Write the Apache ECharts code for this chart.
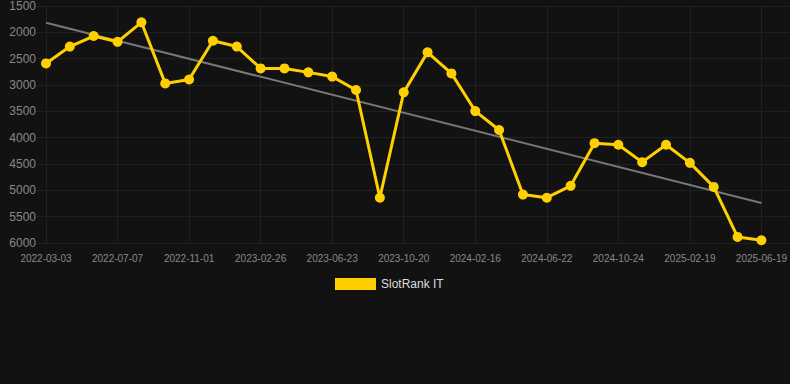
<!DOCTYPE html>
<html>
<head>
<meta charset="utf-8">
<script src="https://cdn.jsdelivr.net/npm/echarts@6/dist/echarts.min.js"></script>
<style>
  html, body { margin: 0; padding: 0; background: #121212; }
  #chart { width: 790px; height: 384px; }
</style>
</head>
<body>
<div id="chart"></div>
<script>
var dates = [
  '2022-03-03', '2022-04-14', '2022-05-26', '2022-07-07', '2022-08-15', '2022-09-23',
  '2022-11-01', '2022-12-10', '2023-01-18', '2023-02-26', '2023-04-05', '2023-05-14',
  '2023-06-23', '2023-08-01', '2023-09-10', '2023-10-20', '2023-11-28', '2024-01-07',
  '2024-02-16', '2024-03-28', '2024-05-10', '2024-06-22', '2024-08-01', '2024-09-12',
  '2024-10-24', '2024-12-03', '2025-01-11', '2025-02-19', '2025-03-31', '2025-05-10',
  '2025-06-19'
];
var rankIT = [
  2590, 2270, 2070, 2180, 1810, 2970, 2895, 2160, 2270, 2685, 2685, 2760,
  2840, 3095, 5140, 3140, 2380, 2780, 3495, 3855, 5080, 5140, 4915, 4105,
  4135, 4465, 4135, 4478, 4935, 5885, 5948
];
// trend line end points (start, end)
var trendEnds = [1817, 5239];

var trend = dates.map(function(d, i) {
  if (i === 0) return trendEnds[0];
  if (i === dates.length - 1) return trendEnds[1];
  return null;
});

var chart = echarts.init(document.getElementById('chart'), null, { renderer: 'svg' });
var grid = '#202020';
chart.setOption({
  animation: false,
  backgroundColor: '#121212',
  grid: [
    { left: 37, right: 0, top: 6, bottom: 141 },
    { left: 46, right: 28, top: 6, bottom: 141 }
  ],
  legend: {
    data: [{ name: 'SlotRank IT', icon: 'rect' }],
    top: 278,
    left: 335,
    padding: 0,
    itemWidth: 41,
    itemHeight: 12,
    itemGap: 10,
    textStyle: { color: '#dddddd', fontSize: 12, fontFamily: 'Liberation Sans, Arial, sans-serif' }
  },
  xAxis: [
    { gridIndex: 0, type: 'value', show: false, min: 0, max: 1 },
    {
      gridIndex: 1,
      type: 'category',
      data: dates,
      boundaryGap: false,
      axisLine: { show: false },
      axisTick: { show: false },
      axisLabel: {
        interval: 2,
        color: '#888888',
        fontSize: 10,
        margin: 10,
        fontFamily: 'Liberation Sans, Arial, sans-serif'
      },
      splitLine: { show: true, interval: 2, lineStyle: { color: grid, width: 1 } }
    }
  ],
  yAxis: [
    {
      gridIndex: 0,
      type: 'value',
      inverse: true,
      min: 1500,
      max: 6000,
      interval: 500,
      axisLine: { show: false },
      axisTick: { show: false },
      axisLabel: { show: false },
      splitLine: { lineStyle: { color: grid, width: 1 } }
    },
    {
      gridIndex: 1,
      type: 'value',
      inverse: true,
      min: 1500,
      max: 6000,
      interval: 500,
      axisLine: { show: false },
      axisTick: { show: false },
      axisLabel: {
        color: '#888888',
        fontSize: 12,
        margin: 10,
        formatter: function(v) { return String(v); },
        fontFamily: 'Liberation Sans, Arial, sans-serif'
      },
      splitLine: { show: false }
    }
  ],
  series: [
    {
      name: 'trend',
      type: 'line',
      xAxisIndex: 1,
      yAxisIndex: 1,
      data: trend,
      connectNulls: true,
      showSymbol: false,
      symbol: 'none',
      lineStyle: { color: '#777777', width: 2 },
      z: 1,
      silent: true
    },
    {
      name: 'SlotRank IT',
      type: 'line',
      xAxisIndex: 1,
      yAxisIndex: 1,
      data: rankIT,
      symbol: 'circle',
      symbolSize: 10,
      lineStyle: { color: '#ffd000', width: 3 },
      itemStyle: { color: '#ffd000' },
      z: 3
    }
  ]
});
</script>
</body>
</html>
